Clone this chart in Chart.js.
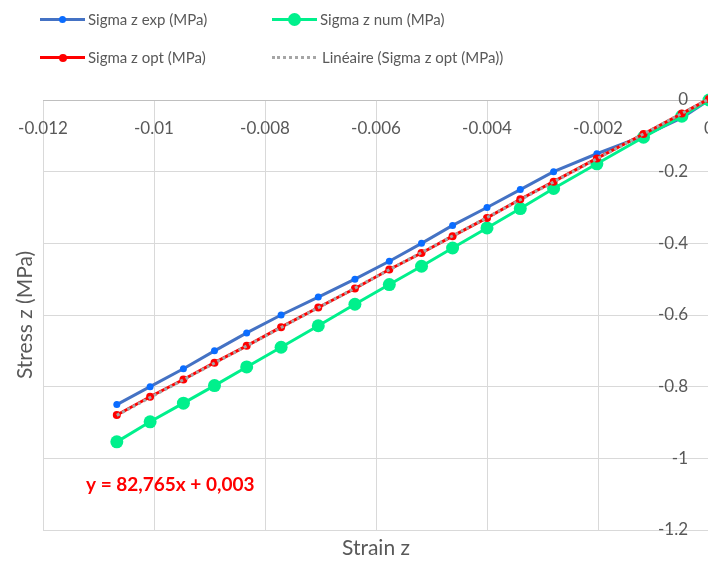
<!DOCTYPE html>
<html>
<head>
<meta charset="utf-8">
<title>Stress z / Strain z</title>
<script src="https://cdn.jsdelivr.net/npm/chart.js@4"></script>
<style>
  html, body { margin: 0; padding: 0; overflow: hidden; background: #fff; }
  #wrap { position: relative; width: 720px; height: 561px; }
  #chart { position: absolute; left: 0; top: 0; }
  .item { position: absolute; height: 20px; }
  .item .line { position: absolute; left: 0; top: 8px; width: 45px; height: 3px; }
  .item .dot { position: absolute; border-radius: 50%; }
  .item .txt { position: absolute; left: 48px; top: 0; line-height: 20px; white-space: nowrap;
               font: 15px Lato, sans-serif; color: #595959; }
</style>
</head>
<body>
<div id="wrap">
  <canvas id="chart" width="720" height="561"></canvas>
  <div id="legend"></div>
</div>
<script>
// values
const strain = [-0.01067, -0.01007, -0.00947, -0.00891, -0.00833, -0.00771, -0.00704, -0.00638, -0.00576,
                -0.00518, -0.00462, -0.00400, -0.00340, -0.00280, -0.00202, -0.00118, -0.00049, 0];
const sigmaExp = [-0.85, -0.80, -0.75, -0.70, -0.65, -0.60, -0.55, -0.50, -0.45,
                  -0.40, -0.35, -0.30, -0.25, -0.20, -0.15, -0.10, -0.05, 0];
const sigmaNum = [-0.954, -0.898, -0.846, -0.797, -0.745, -0.690, -0.630, -0.570, -0.515,
                  -0.464, -0.413, -0.357, -0.303, -0.247, -0.178, -0.104, -0.045, 0];
const sigmaOpt = [-0.879, -0.828, -0.780, -0.733, -0.686, -0.634, -0.579, -0.526, -0.473,
                  -0.427, -0.380, -0.329, -0.277, -0.228, -0.163, -0.095, -0.038, 0.003];
// linear trendline of Sigma z opt
const trendX = [-0.01067, 0];
const trendY = [-0.880, 0.003];
const equation = 'y = 82,765x + 0,003';

const seriesNames = ['Sigma z exp (MPa)', 'Sigma z num (MPa)', 'Sigma z opt (MPa)', 'Linéaire (Sigma z opt (MPa))'];
const xTicks = [-0.012, -0.01, -0.008, -0.006, -0.004, -0.002, 0];
const yTicks = [0, -0.2, -0.4, -0.6, -0.8, -1, -1.2];

const textColor = '#595959';
const font = 'Lato';

function pts(xs, ys) {
  return xs.map((x, i) => ({ x: x, y: ys[i] }));
}

// no extra room for overhanging tick labels, the plot runs to the edge
function noPadding(s) {
  s.paddingLeft = 0;
  s.paddingRight = 0;
  s.paddingTop = 0;
  s.paddingBottom = 0;
}

// legend, two columns like the original
const legendItems = [
  { name: seriesNames[0], left: 40, top: 10, line: '#4472C4', dot: '#0A6CFF', r: 3.5 },
  { name: seriesNames[1], left: 272, top: 10, line: '#00F08C', dot: '#00F08C', r: 6.5 },
  { name: seriesNames[2], left: 40, top: 48, line: '#FF0000', dot: '#FF0000', r: 4 },
  { name: seriesNames[3], left: 272, top: 48, dotted: '#A6A6A6' }
];
const legend = document.getElementById('legend');
legendItems.forEach(it => {
  const el = document.createElement('div');
  el.className = 'item';
  el.style.left = it.left + 'px';
  el.style.top = it.top + 'px';
  let html = '';
  if (it.dotted) {
    html += '<div class="line" style="top:8px;height:0;border-top:3px dotted ' + it.dotted + ';width:44px"></div>';
  } else {
    html += '<div class="line" style="background:' + it.line + '"></div>';
    html += '<div class="dot" style="background:' + it.dot + ';width:' + (it.r * 2) + 'px;height:' + (it.r * 2) +
            'px;left:' + (22.5 - it.r) + 'px;top:' + (9.5 - it.r) + 'px"></div>';
  }
  html += '<div class="txt" style="left:' + (it.dotted ? 50 : 48) + 'px">' + it.name + '</div>';
  el.innerHTML = html;
  legend.appendChild(el);
});

const equationLabel = {
  id: 'equationLabel',
  afterDatasetsDraw(chart) {
    const c = chart.ctx;
    c.save();
    c.font = 'bold 19px ' + font;
    c.fillStyle = '#FF0000';
    c.textBaseline = 'middle';
    c.fillText(equation, 86, 485);
    c.restore();
  }
};

function draw() {
  new Chart(document.getElementById('chart'), {
    type: 'scatter',
    data: {
      datasets: [{
        label: seriesNames[0],
        data: pts(strain, sigmaExp),
        showLine: true,
        borderColor: '#4472C4',
        borderWidth: 3,
        pointRadius: 3.5,
        pointBackgroundColor: '#0A6CFF',
        pointBorderColor: '#0A6CFF',
        pointBorderWidth: 0,
        clip: false,
        order: 4
      }, {
        label: seriesNames[1],
        data: pts(strain, sigmaNum),
        showLine: true,
        borderColor: '#00F08C',
        borderWidth: 3,
        pointRadius: 6.5,
        pointBackgroundColor: '#00F08C',
        pointBorderColor: '#00F08C',
        pointBorderWidth: 0,
        clip: false,
        order: 3
      }, {
        label: seriesNames[2],
        data: pts(strain, sigmaOpt),
        showLine: true,
        borderColor: '#FF0000',
        borderWidth: 3,
        pointRadius: 4,
        pointBackgroundColor: '#FF0000',
        pointBorderColor: '#FF0000',
        pointBorderWidth: 0,
        clip: false,
        order: 2
      }, {
        label: seriesNames[3],
        data: pts(trendX, trendY),
        showLine: true,
        borderColor: '#A6A6A6',
        borderWidth: 3,
        borderDash: [3, 3],
        pointRadius: 0,
        clip: false,
        order: 1
      }]
    },
    options: {
      responsive: false,
      animation: false,
      devicePixelRatio: 1,
      layout: { padding: { top: 100, right: 11, left: 0, bottom: 0 } },
      plugins: { legend: { display: false }, tooltip: { enabled: false } },
      scales: {
        x: {
          type: 'linear',
          min: -0.012,
          max: 0,
          position: { y: 0 },
          afterBuildTicks: s => { s.ticks = xTicks.map(v => ({ value: v })); },
          afterFit: s => { s.height = 0; noPadding(s); },
          grid: { color: '#D9D9D9', lineWidth: 1, drawTicks: false },
          border: { color: '#BFBFBF', width: 1 },
          ticks: {
            padding: 18, color: textColor, font: { family: font, size: 17 },
            maxRotation: 0, autoSkip: false, callback: v => String(v)
          }
        },
        y: {
          type: 'linear',
          min: -1.2,
          max: 0,
          position: 'right',
          afterBuildTicks: s => { s.ticks = yTicks.map(v => ({ value: v })); },
          afterFit: s => { s.width = 0; noPadding(s); },
          grid: { color: '#D9D9D9', lineWidth: 1, drawTicks: false },
          border: { display: false },
          // labels sit inside the plot, right-aligned a little left of x = 0
          ticks: {
            mirror: true, padding: -21, color: textColor, font: { family: font, size: 17 },
            callback: v => String(v)
          }
        },
        xTitle: {
          axis: 'x',
          type: 'linear',
          position: 'bottom',
          grid: { display: false },
          border: { display: false },
          ticks: { display: false },
          afterFit: s => { s.height = 31; noPadding(s); },
          title: {
            display: true, text: 'Strain z', color: textColor,
            font: { family: font, size: 21 }, padding: { top: 0, bottom: 0 }
          }
        },
        yTitle: {
          axis: 'y',
          type: 'linear',
          position: 'left',
          grid: { display: false },
          border: { display: false },
          ticks: { display: false },
          afterFit: s => { s.width = 43; noPadding(s); },
          title: {
            display: true, text: 'Stress z (MPa)', color: textColor,
            font: { family: font, size: 21 }, padding: { top: 13, bottom: 0 }
          }
        }
      }
    },
    plugins: [equationLabel]
  });
}

Promise.all([
  document.fonts.load('18px Lato'),
  document.fonts.load('bold 18px Lato')
]).then(draw, draw);
</script>
</body>
</html>
